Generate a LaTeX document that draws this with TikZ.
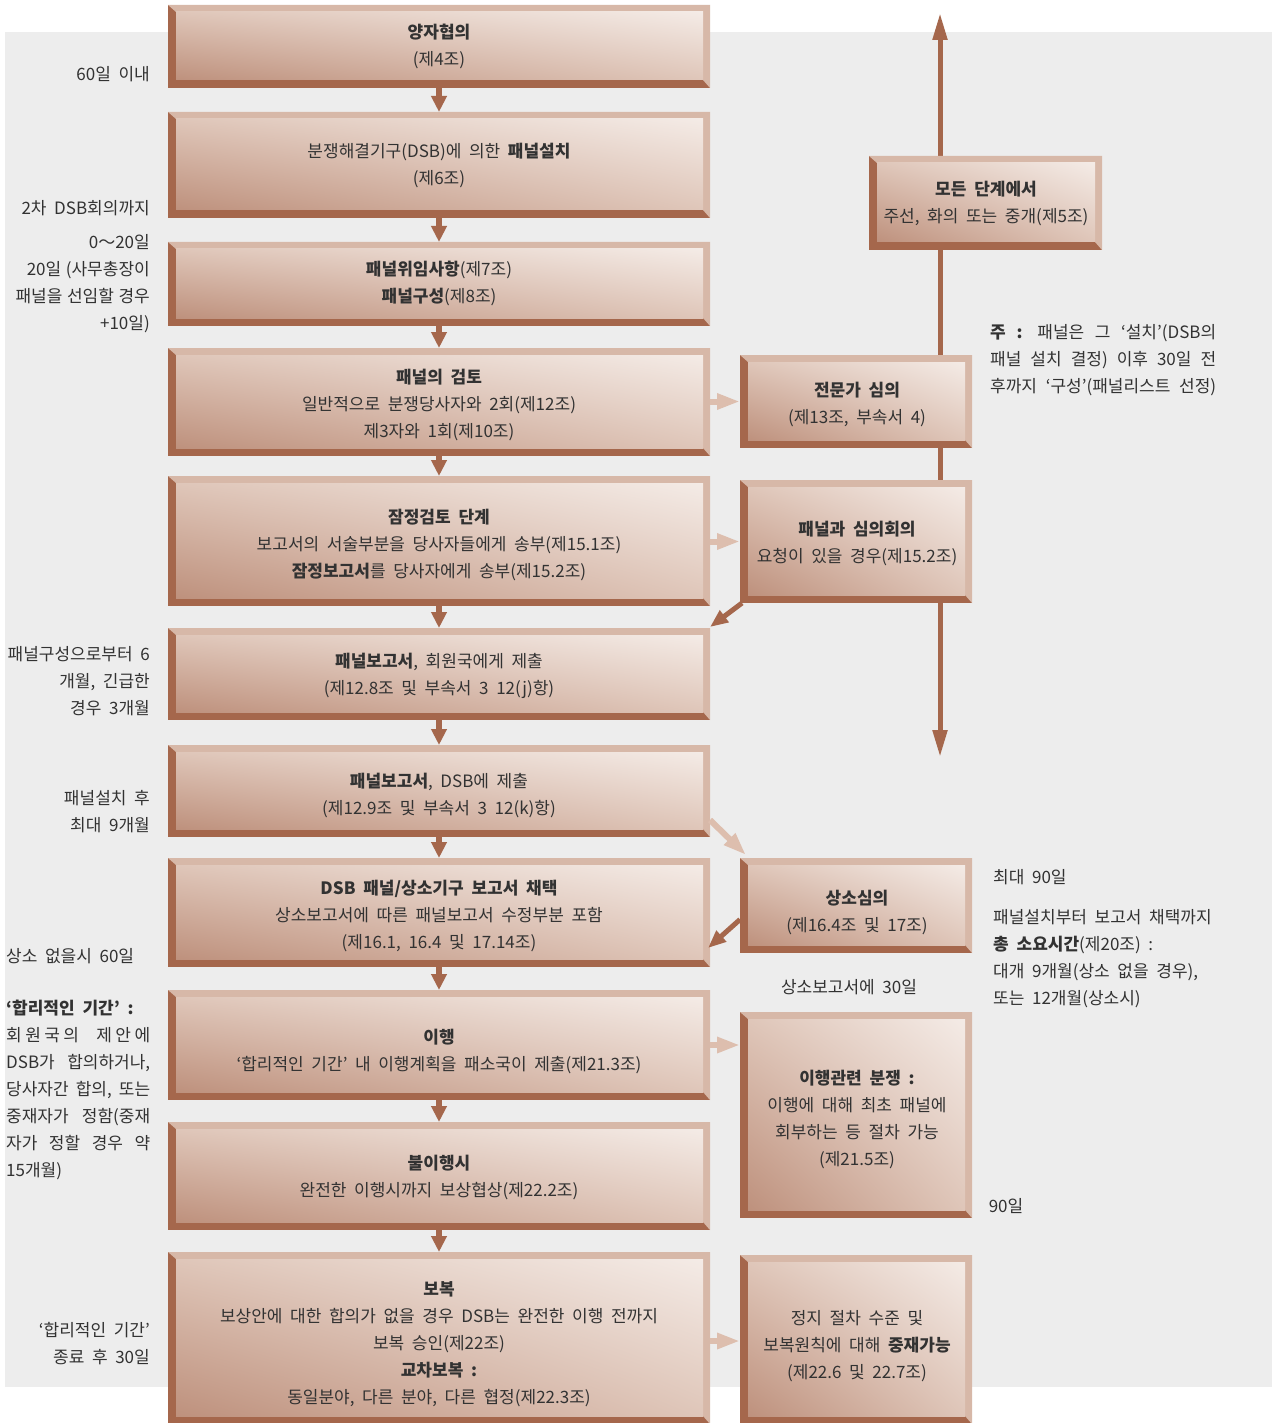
\documentclass[tikz,border=0pt]{standalone}
\usepackage{fontspec}
\setmainfont[WordSpace=2]{Noto Sans CJK KR}
\newfontfamily\tightsp[WordSpace=1.2]{Noto Sans CJK KR}
\usetikzlibrary{arrows.meta,calc,shadings}
\definecolor{dkb}{RGB}{165,103,76}
\definecolor{ltb}{RGB}{215,184,168}
\definecolor{tanar}{RGB}{221,190,174}
\definecolor{shA}{RGB}{190,145,125}
\definecolor{shB}{RGB}{223,198,185}
\definecolor{shC}{RGB}{244,235,230}
\definecolor{bgg}{RGB}{237,237,237}
\definecolor{txtc}{RGB}{50,50,50}
\newcommand{\bevbox}[5]{%
  \fill[dkb] (#2,#3) rectangle (#4,#5);
  \fill[ltb] (#2,#3) -- (#4,#3) -- (#4,#5) -- ({#4-7},{#5-8}) -- ({#4-7},{#3+7}) -- ({#2+8},{#3+7}) -- cycle;
  \shade[lower left=shA, upper right=shC, upper left=shB, lower right=shB] ({#2+8},{#3+7}) rectangle ({#4-7},{#5-8});
  \node[inner sep=0pt, outer sep=0pt, minimum width={(#4-#2)*1pt}, minimum height={(#5-#3)*1pt}] (#1) at ({(#2+#4)/2},{(#3+#5)/2}) {};
}
\tikzset{
  txt/.style={align=center, text=txtc, inner sep=0pt, font=\fontsize{17}{27}\selectfont},
  note/.style={text=txtc, inner sep=0pt, font=\fontsize{17}{27}\selectfont},
  mainar/.style={draw=dkb, line width=6pt, -{Triangle[length=16pt,width=15pt]}},
  dkdiag/.style={draw=dkb, line width=5pt, -{Triangle[length=18pt,width=14pt]}},
  tanarrow/.style={draw=tanar, line width=6pt, -{Triangle[length=23pt,width=15pt]}},
  vline/.style={draw=dkb, line width=5pt, {Triangle[length=27pt,width=14pt]}-{Triangle[length=27pt,width=14pt]}}
}
\begin{document}
\begin{tikzpicture}[x=1pt,y=-1pt]
\useasboundingbox (0,0) rectangle (1273,1423);
\fill[white] (0,0) rectangle (1273,1423);
\fill[bgg] (5,32) rectangle (1272,1387);

% vertical bidirectional line
\coordinate (vtop) at (940,13);
\coordinate (vbot) at (940,757);
\draw[vline] (vtop) -- (vbot);

% main column
\bevbox{b1}{168}{5}{710}{88}
\bevbox{b2}{168}{112}{710}{218}
\bevbox{b3}{168}{242}{710}{326}
\bevbox{b4}{168}{348}{710}{456}
\bevbox{b5}{168}{476}{710}{606}
\bevbox{b6}{168}{628}{710}{720}
\bevbox{b7}{168}{745}{710}{837}
\bevbox{b8}{168}{858}{710}{967}
\bevbox{b9}{168}{990}{710}{1100}
\bevbox{b10}{168}{1122}{710}{1230}
\bevbox{b11}{168}{1252}{710}{1424}

% right column
\bevbox{m}{869}{156}{1102}{250}
\bevbox{r1}{740}{355}{972}{448}
\bevbox{r2}{740}{480}{972}{603}
\bevbox{r3}{740}{858}{972}{953}
\bevbox{r4}{740}{1012}{972}{1218}
\bevbox{r5}{740}{1255}{972}{1424}

% box texts
\node[txt] (b1t) at (439,46.5) {\textbf{양자협의}\\(제4조)};
\node[txt] (b2t) at (439,165) {분쟁해결기구(DSB)에 의한 \textbf{패널설치}\\(제6조)};
\node[txt] (b3t) at (439,283.5) {\textbf{패널위임사항}(제7조)\\\textbf{패널구성}(제8조)};
\node[txt] (b4t) at (439,404.5) {\textbf{패널의 검토}\\일반적으로 분쟁당사자와 2회(제12조)\\제3자와 1회(제10조)};
\node[txt] (b5t) at (439,544.5) {\textbf{잠정검토 단계}\\보고서의 서술부분을 당사자들에게 송부(제15.1조)\\\textbf{잠정보고서}를 당사자에게 송부(제15.2조)};
\node[txt] (b6t) at (439,675.5) {\textbf{패널보고서}, 회원국에게 제출\\(제12.8조 및 부속서 3 12(j)항)};
\node[txt] (b7t) at (439,795) {\textbf{패널보고서}, DSB에 제출\\(제12.9조 및 부속서 3 12(k)항)};
\node[txt] (b8t) at (439,915.5) {\textbf{DSB 패널/상소기구 보고서 채택}\\상소보고서에 따른 패널보고서 수정부분 포함\\(제16.1, 16.4 및 17.14조)};
\node[txt] (b9t) at (439,1051.5) {\textbf{이행}\\‘합리적인 기간’ 내 이행계획을 패소국이 제출(제21.3조)};
\node[txt] (b10t) at (439,1177.5) {\textbf{불이행시}\\완전한 이행시까지 보상협상(제22.2조)};
\node[txt] (b11t) at (439,1344.5) {\textbf{보복}\\보상안에 대한 합의가 없을 경우 DSB는 완전한 이행 전까지\\보복 승인(제22조)\\\textbf{교차보복 :}\\동일분야, 다른 분야, 다른 협정(제22.3조)};

\node[txt] (mt) at (986,203.5) {\textbf{모든 단계에서}\\주선, 화의 또는 중개(제5조)};
\node[txt] (r1t) at (857,404.5) {\textbf{전문가 심의}\\(제13조, 부속서 4)};
\node[txt] (r2t) at (857,543.5) {\textbf{패널과 심의회의}\\요청이 있을 경우(제15.2조)};
\node[txt] (r3t) at (857,912) {\textbf{상소심의}\\(제16.4조 및 17조)};
\node[txt] (r4t) at (857,1119) {\textbf{이행관련 분쟁 :}\\이행에 대해 최초 패널에\\회부하는 등 절차 가능\\(제21.5조)};
\node[txt] (r5t) at (857,1346) {정지 절차 수준 및\\보복원칙에 대해 \textbf{중재가능}\\(제22.6 및 22.7조)};

% main arrows
\draw[mainar] (b1.south) -- (b2.north);
\draw[mainar] (b2.south) -- (b3.north);
\draw[mainar] (b3.south) -- (b4.north);
\draw[mainar] (b4.south) -- (b5.north);
\draw[mainar] (b5.south) -- (b6.north);
\draw[mainar] (b6.south) -- (b7.north);
\draw[mainar] (b7.south) -- (b8.north);
\draw[mainar] (b8.south) -- (b9.north);
\draw[mainar] (b9.south) -- (b10.north);
\draw[mainar] (b10.south) -- (b11.north);

% side arrows
\draw[tanarrow] (b4.east |- r1.west) -- (r1.west);
\draw[tanarrow] (b5.east |- r2.west) -- (r2.west);
\draw[tanarrow] (b9.east) -- (b9.east -| r4.west);
\draw[tanarrow] ([yshift=-3pt]b11.east) -- ([yshift=-3pt]b11.east -| r5.west);
\draw[tanarrow] ([yshift=17pt]b7.south east) -- ([xshift=6pt,yshift=3pt]r3.north west);
\draw[dkdiag] ([xshift=2pt]r2.south west) -- ([yshift=1pt]b6.north east);
\draw[dkdiag] ([yshift=-14pt]r3.west) -- ([xshift=-2pt,yshift=19pt]b8.south east);

% left notes
\node[note, align=right, anchor=east] (n1) at (150,74) {60일 이내};
\node[note, align=right, anchor=east] (n2) at (150,208) {2차 DSB회의까지};
\node[note, align=right, anchor=east, font=\fontsize{17}{27}\tightsp] (n3) at (150,283.5) {0～20일\\20일 (사무총장이\\패널을 선임할 경우\\+10일)};
\node[note, align=right, anchor=east] (n4) at (150,681) {패널구성으로부터 6\\개월, 긴급한\\경우 3개월};
\node[note, align=right, anchor=east] (n5) at (150,811.5) {패널설치 후\\최대 9개월};
\node[note, anchor=west] (n6) at (6,956) {상소 없을시 60일};
\node[note, align=left, anchor=west] (n7) at (6,1089.5) {\textbf{‘합리적인 기간’ :}\\
\makebox[144pt][s]{회\hfill 원\hfill 국\hfill 의\hspace{14pt}\hfill 제\hfill 안\hfill 에}\\
\makebox[144pt][s]{DSB가 합의하거나,}\\
\makebox[144pt][s]{당사자간 합의, 또는}\\
\makebox[144pt][s]{중재자가 정함(중재}\\
\makebox[144pt][s]{자가 정할 경우 약}\\
15개월)};
\node[note, align=right, anchor=east] (n8) at (150,1343.5) {‘합리적인 기간’\\종료 후 30일};

% right notes
\node[note, align=left, anchor=west] (n9) at (990,360.5) {\makebox[226pt][s]{\textbf{주 :} 패널은 그 ‘설치’(DSB의}\\
\makebox[226pt][s]{패널 설치 결정) 이후 30일 전}\\
\makebox[226pt][s]{후까지 ‘구성’(패널리스트 선정)}};
\node[note, anchor=west] (n10) at (993,877) {최대 90일};
\node[note, align=left, anchor=west] (n11) at (993,959) {패널설치부터 보고서 채택까지\\\textbf{총 소요시간}(제20조) :\\대개 9개월(상소 없을 경우),\\또는 12개월(상소시)};
\node[note] (n12) at (849,987) {상소보고서에 30일};
\node[note] (n13) at (1006,1206) {90일};
\end{tikzpicture}
\end{document}
